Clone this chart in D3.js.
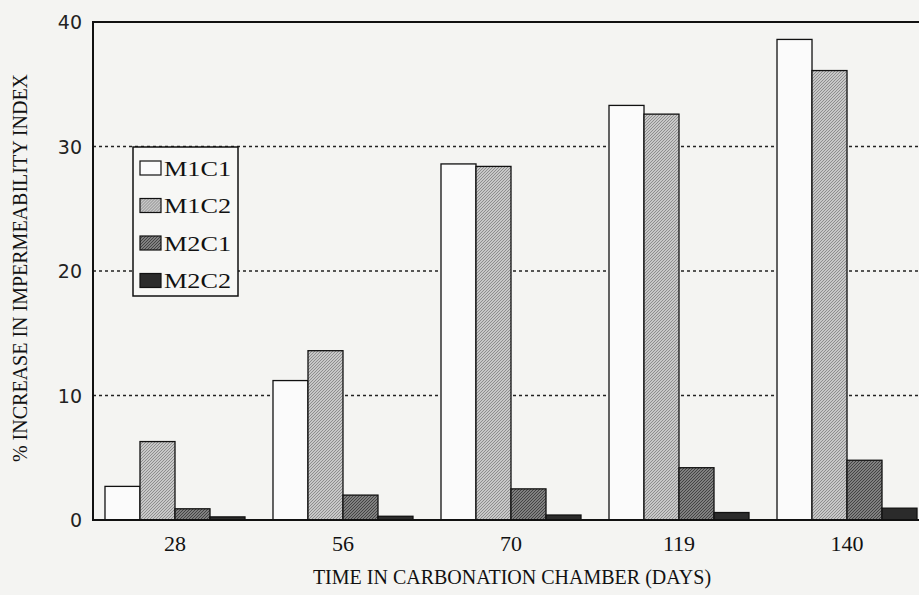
<!DOCTYPE html>
<html>
<head>
    <meta charset="utf-8">
    <style>
        body { margin: 0; background: #f4f4f2; }
        svg { display: block; }
        .serif { font-family: 'Liberation Serif', 'Times New Roman', serif; }
    </style>
</head>
<body>
<svg width="919" height="595"></svg>

<script src="https://d3js.org/d3.v7.min.js"></script>
<script>
    // data
    let days = ["28", "56", "70", "119", "140"];
    let series = ["M1C1", "M1C2", "M2C1", "M2C2"];
    let m1c1 = [2.7, 11.2, 28.6, 33.3, 38.6];
    let m1c2 = [6.3, 13.6, 28.4, 32.6, 36.1];
    let m2c1 = [0.9, 2.0, 2.5, 4.2, 4.8];
    let m2c2 = [0.25, 0.3, 0.4, 0.6, 0.95];
    let yTicks = [0, 10, 20, 30, 40];

    let values = [m1c1, m1c2, m2c1, m2c2];
    let rows = days.map((d, i) => ({ day: d, vals: series.map((s, j) => ({ key: s, v: values[j][i] })) }));

    let svg = d3.select("svg");
    let plotL = 93, plotR = 933, plotT = 22, plotB = 520;

    let x = d3.scaleBand().domain(days).range([plotL - 2, plotR - 2])
        .paddingInner(0.1667).paddingOuter(0.0833);
    let xs = d3.scaleBand().domain(series).range([0, x.bandwidth()]);
    let y = d3.scaleLinear().domain([0, 40]).range([plotB, plotT]);

    // fill patterns to mimic the printed textures
    let defs = svg.append("defs");
    function stipple(id, bg, fg, step) {
        let p = defs.append("pattern").attr("id", id)
            .attr("width", step).attr("height", step)
            .attr("patternUnits", "userSpaceOnUse");
        p.append("rect").attr("width", step).attr("height", step).attr("fill", bg);
        p.append("path").attr("d", `M0,${step} L${step},0`)
            .attr("stroke", fg).attr("stroke-width", 1);
    }
    stipple("p2", "#c8c8c8", "#8e8e8e", 3);
    stipple("p3", "#808080", "#444", 3);
    let fills = { M1C1: "#fbfbfb", M1C2: "url(#p2)", M2C1: "url(#p3)", M2C2: "#2b2b2b" };

    // dotted gridlines
    svg.selectAll(".grid")
        .data(yTicks.filter(t => t > 0 && t < 40))
        .join("line")
        .attr("x1", plotL).attr("x2", plotR)
        .attr("y1", d => y(d)).attr("y2", d => y(d))
        .attr("stroke", "#222")
        .attr("stroke-width", 1.5)
        .attr("stroke-dasharray", "3,3");

    // bars
    let groups = svg.selectAll(".grp")
        .data(rows)
        .join("g")
        .attr("transform", d => `translate(${x(d.day)},0)`);

    groups.selectAll("rect")
        .data(d => d.vals)
        .join("rect")
        .attr("x", d => xs(d.key))
        .attr("y", d => y(d.v))
        .attr("width", xs.bandwidth())
        .attr("height", d => y(0) - y(d.v))
        .attr("fill", d => fills[d.key])
        .attr("stroke", "#111")
        .attr("stroke-width", 1.3);

    // frame
    svg.append("path")
        .attr("d", `M${plotR},${plotT} L${plotL},${plotT} L${plotL},${plotB} L${plotR},${plotB}`)
        .attr("fill", "none")
        .attr("stroke", "#111")
        .attr("stroke-width", 2);

    // y tick labels
    svg.selectAll(".ylab")
        .data(yTicks)
        .join("text")
        .attr("x", 82)
        .attr("y", d => y(d) + 7)
        .attr("text-anchor", "end")
        .style("font-family", "'DejaVu Sans', sans-serif")
        .style("font-size", "19px")
        .style("fill", "#222")
        .text(d => d);

    // x tick labels
    svg.selectAll(".xlab")
        .data(days)
        .join("text")
        .attr("class", "serif")
        .attr("x", d => x(d) + x.bandwidth() / 2)
        .attr("y", 551)
        .attr("text-anchor", "middle")
        .style("font-size", "22px")
        .style("fill", "#111")
        .text(d => d);

    // axis titles
    svg.append("text")
        .attr("class", "serif")
        .attr("x", 512).attr("y", 584)
        .attr("text-anchor", "middle")
        .style("font-size", "20px")
        .style("fill", "#111")
        .text("TIME IN CARBONATION CHAMBER (DAYS)");

    svg.append("text")
        .attr("class", "serif")
        .attr("transform", "translate(27,268) rotate(-90)")
        .attr("text-anchor", "middle")
        .style("font-size", "20px")
        .style("fill", "#111")
        .text("% INCREASE IN IMPERMEABILITY INDEX");

    // legend
    let lg = svg.append("g").attr("transform", "translate(133,147)");
    lg.append("rect")
        .attr("width", 105).attr("height", 149)
        .attr("fill", "#f7f7f5")
        .attr("stroke", "#111").attr("stroke-width", 1.5);
    let items = lg.selectAll(".item")
        .data(series)
        .join("g")
        .attr("transform", (d, i) => `translate(7,${14 + i * 37.5})`);
    items.append("rect")
        .attr("width", 21).attr("height", 14)
        .attr("fill", d => fills[d])
        .attr("stroke", "#111").attr("stroke-width", 1.2);
    items.append("text")
        .attr("class", "serif")
        .attr("x", 24).attr("y", 14.5)
        .attr("textLength", 67)
        .attr("lengthAdjust", "spacingAndGlyphs")
        .style("font-size", "22px")
        .style("fill", "#111")
        .text(d => d);
</script>
</body>
</html>
